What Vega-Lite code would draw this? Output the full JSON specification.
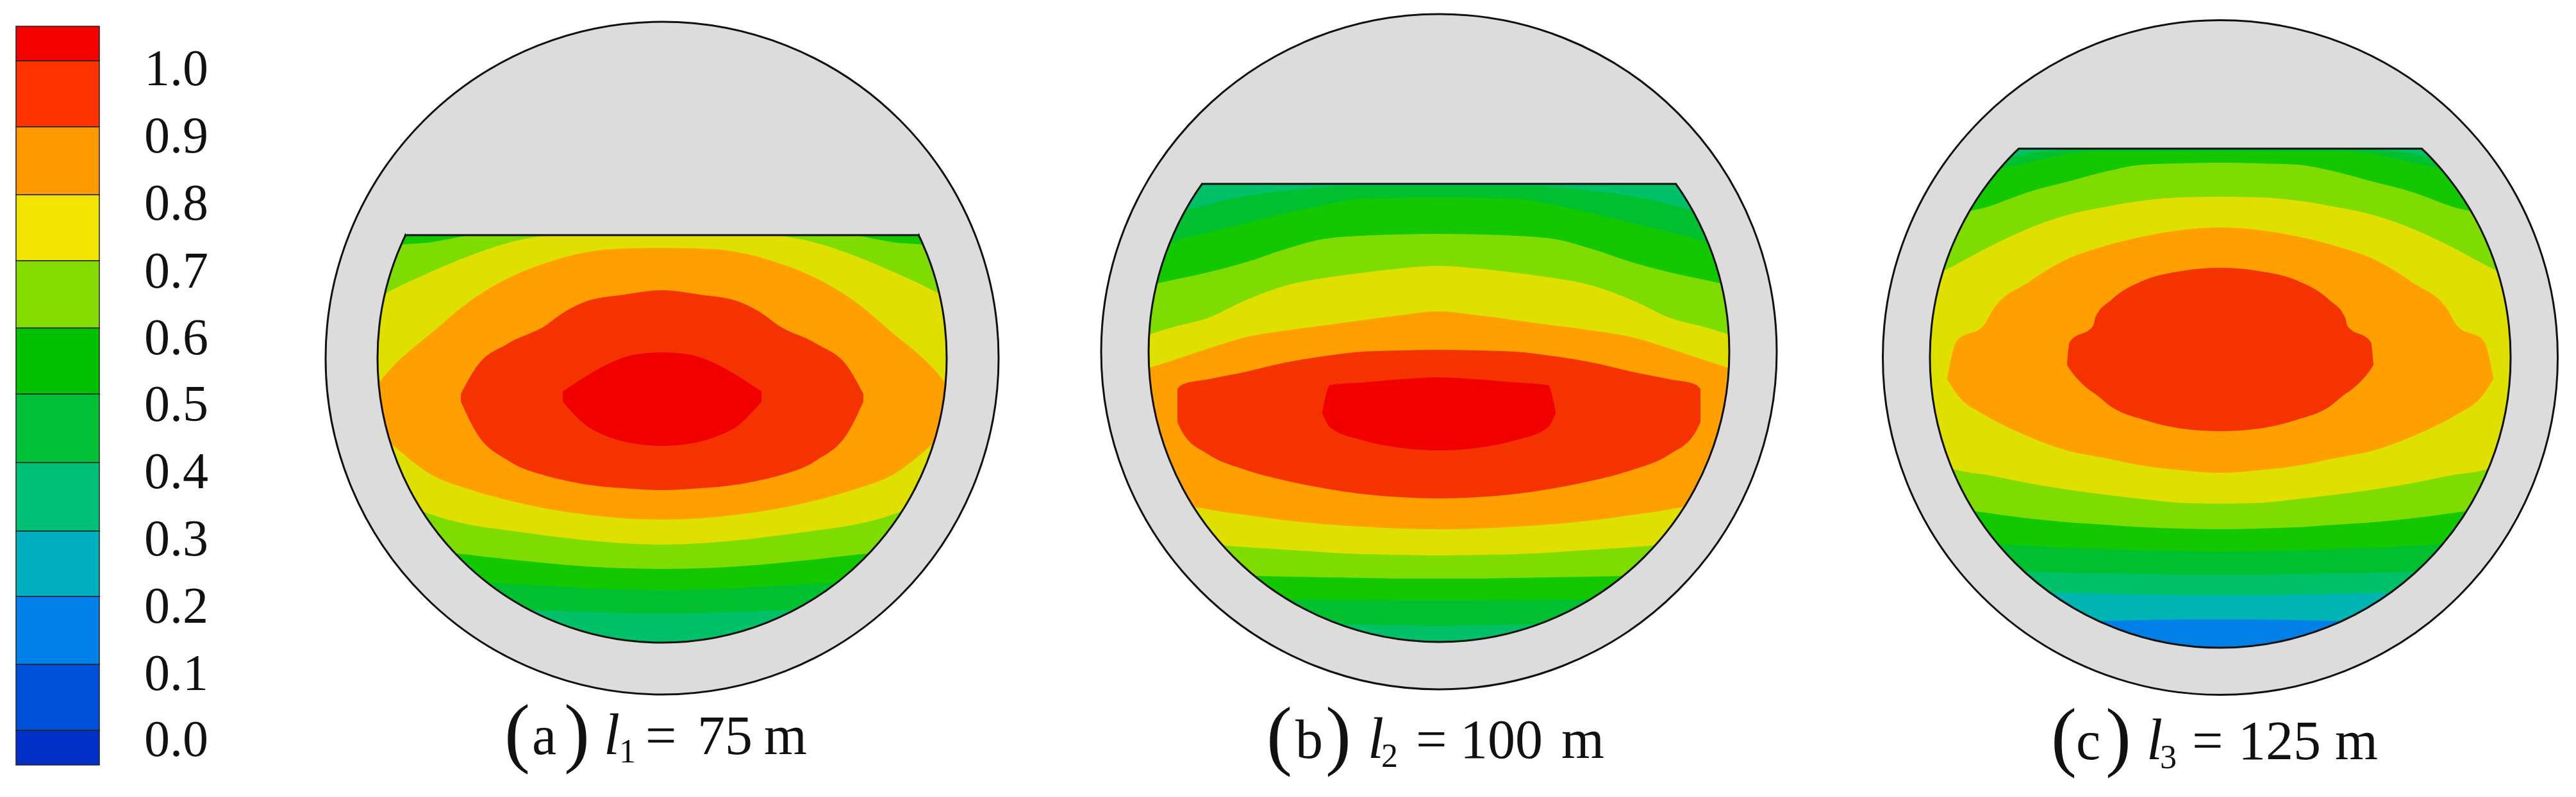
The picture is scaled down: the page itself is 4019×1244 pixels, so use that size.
{"$schema":"https://vega.github.io/schema/vega-lite/v6.json","width":4019,"height":1244,"autosize":{"type":"none"},"padding":0,"background":"white","config":{"view":{"stroke":null}},
"datasets":{
"discs":[{"p":"a","x":1033,"y":559,"outer":1050,"inner":888,"ring":958},{"p":"b","x":2245,"y":549,"outer":1054,"inner":906,"ring":976},{"p":"c","x":3464,"y":558,"outer":1053,"inner":906,"ring":976}],
"chords":[{"p":"a","x":631,"x2":1435,"y":367},{"p":"b","x":1875,"x2":2615,"y":287},{"p":"c","x":3149,"x2":3779,"y":232}],
"caps":[{"p":"a","x":633,"y":324,"y2":367},{"p":"a","x":733,"y":217,"y2":367},{"p":"a","x":833,"y":140,"y2":367},{"p":"a","x":933,"y":106,"y2":367},{"p":"a","x":1033,"y":95,"y2":367},{"p":"a","x":1133,"y":106,"y2":367},{"p":"a","x":1233,"y":140,"y2":367},{"p":"a","x":1333,"y":217,"y2":367},{"p":"a","x":1433,"y":324,"y2":367},
{"p":"b","x":1875,"y":254,"y2":287},{"p":"b","x":1945,"y":183,"y2":287},{"p":"b","x":2045,"y":120,"y2":287},{"p":"b","x":2145,"y":87,"y2":287},{"p":"b","x":2245,"y":76,"y2":287},{"p":"b","x":2345,"y":87,"y2":287},{"p":"b","x":2445,"y":120,"y2":287},{"p":"b","x":2545,"y":183,"y2":287},{"p":"b","x":2615,"y":254,"y2":287},
{"p":"c","x":3149,"y":205,"y2":232},{"p":"c","x":3164,"y":192,"y2":232},{"p":"c","x":3264,"y":129,"y2":232},{"p":"c","x":3364,"y":96,"y2":232},{"p":"c","x":3464,"y":85,"y2":232},{"p":"c","x":3564,"y":96,"y2":232},{"p":"c","x":3664,"y":129,"y2":232},{"p":"c","x":3764,"y":192,"y2":232},{"p":"c","x":3779,"y":205,"y2":232}],
"bar":[{"l":1,"x":25,"x2":155,"y":41,"y2":95},{"l":0.9,"x":25,"x2":155,"y":95,"y2":198},{"l":0.8,"x":25,"x2":155,"y":198,"y2":304},{"l":0.7,"x":25,"x2":155,"y":304,"y2":407},{"l":0.6,"x":25,"x2":155,"y":407,"y2":512},{"l":0.5,"x":25,"x2":155,"y":512,"y2":615},{"l":0.4,"x":25,"x2":155,"y":615,"y2":722},{"l":0.3,"x":25,"x2":155,"y":722,"y2":829},{"l":0.2,"x":25,"x2":155,"y":829,"y2":931},{"l":0.1,"x":25,"x2":155,"y":931,"y2":1037},{"l":0,"x":25,"x2":155,"y":1037,"y2":1140},{"l":-0.1,"x":25,"x2":155,"y":1140,"y2":1194}],
"ticks":[{"t":"1.0","x":275,"y":109},{"t":"0.9","x":275,"y":214},{"t":"0.8","x":275,"y":319},{"t":"0.7","x":275,"y":425},{"t":"0.6","x":275,"y":529},{"t":"0.5","x":275,"y":633},{"t":"0.4","x":275,"y":738},{"t":"0.3","x":275,"y":843},{"t":"0.2","x":275,"y":948},{"t":"0.1","x":275,"y":1053},{"t":"0.0","x":275,"y":1156}],
"parens":[{"t":"(","x":787,"y":1183},{"t":")","x":880,"y":1183},{"t":"(","x":1976,"y":1187},{"t":")","x":2068,"y":1187},{"t":"(","x":3200,"y":1189},{"t":")","x":3285,"y":1189}],
"roman":[{"t":"a","x":830,"y":1177},{"t":"=","x":1007,"y":1177},{"t":"75","x":1088,"y":1177},{"t":"m","x":1192,"y":1177},{"t":"b","x":2021,"y":1183},{"t":"=","x":2209,"y":1183},{"t":"100","x":2278,"y":1183},{"t":"m","x":2436,"y":1183},{"t":"c","x":3239,"y":1185},{"t":"=","x":3420,"y":1185},{"t":"125","x":3492,"y":1185},{"t":"m","x":3643,"y":1185}],
"ital":[{"t":"l","x":942,"y":1177},{"t":"l","x":2134,"y":1183},{"t":"l","x":3349,"y":1185}],
"subs":[{"t":"1","x":966,"y":1190},{"t":"2","x":2155,"y":1197},{"t":"3","x":3370,"y":1199}],
"bands":[
{"p":"a","l":0.3,"x":573,"y":441,"y2":677},{"p":"a","l":0.3,"x":613,"y":362,"y2":781},{"p":"a","l":0.3,"x":673,"y":360,"y2":869},{"p":"a","l":0.3,"x":733,"y":360,"y2":927},{"p":"a","l":0.3,"x":793,"y":360,"y2":969},{"p":"a","l":0.3,"x":853,"y":360,"y2":999},{"p":"a","l":0.3,"x":913,"y":360,"y2":1019},{"p":"a","l":0.3,"x":973,"y":360,"y2":1030},{"p":"a","l":0.3,"x":1033,"y":360,"y2":1034},{"p":"a","l":0.3,"x":1093,"y":360,"y2":1030},{"p":"a","l":0.3,"x":1153,"y":360,"y2":1019},{"p":"a","l":0.3,"x":1213,"y":360,"y2":999},{"p":"a","l":0.3,"x":1273,"y":360,"y2":969},{"p":"a","l":0.3,"x":1333,"y":360,"y2":927},{"p":"a","l":0.3,"x":1393,"y":360,"y2":869},{"p":"a","l":0.3,"x":1453,"y":362,"y2":781},{"p":"a","l":0.3,"x":1493,"y":441,"y2":677},
{"p":"a","l":0.4,"x":573,"y":441,"y2":677},{"p":"a","l":0.4,"x":613,"y":362,"y2":781},{"p":"a","l":0.4,"x":673,"y":360,"y2":869},{"p":"a","l":0.4,"x":733,"y":360,"y2":927},{"p":"a","l":0.4,"x":793,"y":360,"y2":951},{"p":"a","l":0.4,"x":853,"y":360,"y2":953},{"p":"a","l":0.4,"x":913,"y":360,"y2":955},{"p":"a","l":0.4,"x":973,"y":360,"y2":957},{"p":"a","l":0.4,"x":1033,"y":360,"y2":958},{"p":"a","l":0.4,"x":1093,"y":360,"y2":957},{"p":"a","l":0.4,"x":1153,"y":360,"y2":955},{"p":"a","l":0.4,"x":1213,"y":360,"y2":953},{"p":"a","l":0.4,"x":1273,"y":360,"y2":951},{"p":"a","l":0.4,"x":1333,"y":360,"y2":927},{"p":"a","l":0.4,"x":1393,"y":360,"y2":869},{"p":"a","l":0.4,"x":1453,"y":362,"y2":781},{"p":"a","l":0.4,"x":1493,"y":441,"y2":677},
{"p":"a","l":0.5,"x":573,"y":441,"y2":677},{"p":"a","l":0.5,"x":613,"y":362,"y2":781},{"p":"a","l":0.5,"x":673,"y":360,"y2":869},{"p":"a","l":0.5,"x":733,"y":360,"y2":908},{"p":"a","l":0.5,"x":793,"y":360,"y2":911},{"p":"a","l":0.5,"x":853,"y":360,"y2":914},{"p":"a","l":0.5,"x":913,"y":360,"y2":918},{"p":"a","l":0.5,"x":973,"y":360,"y2":920},{"p":"a","l":0.5,"x":1033,"y":360,"y2":921},{"p":"a","l":0.5,"x":1093,"y":360,"y2":920},{"p":"a","l":0.5,"x":1153,"y":360,"y2":918},{"p":"a","l":0.5,"x":1213,"y":360,"y2":914},{"p":"a","l":0.5,"x":1273,"y":360,"y2":911},{"p":"a","l":0.5,"x":1333,"y":360,"y2":908},{"p":"a","l":0.5,"x":1393,"y":360,"y2":869},{"p":"a","l":0.5,"x":1453,"y":362,"y2":781},{"p":"a","l":0.5,"x":1493,"y":441,"y2":677},
{"p":"a","l":0.6,"x":573,"y":441,"y2":677},{"p":"a","l":0.6,"x":613,"y":384,"y2":781},{"p":"a","l":0.6,"x":673,"y":378,"y2":858},{"p":"a","l":0.6,"x":733,"y":367,"y2":866},{"p":"a","l":0.6,"x":793,"y":360,"y2":873},{"p":"a","l":0.6,"x":853,"y":360,"y2":879},{"p":"a","l":0.6,"x":913,"y":360,"y2":884},{"p":"a","l":0.6,"x":973,"y":360,"y2":887},{"p":"a","l":0.6,"x":1033,"y":360,"y2":888},{"p":"a","l":0.6,"x":1093,"y":360,"y2":887},{"p":"a","l":0.6,"x":1153,"y":360,"y2":884},{"p":"a","l":0.6,"x":1213,"y":360,"y2":879},{"p":"a","l":0.6,"x":1273,"y":360,"y2":873},{"p":"a","l":0.6,"x":1333,"y":367,"y2":866},{"p":"a","l":0.6,"x":1393,"y":378,"y2":858},{"p":"a","l":0.6,"x":1453,"y":384,"y2":781},{"p":"a","l":0.6,"x":1493,"y":441,"y2":677},
{"p":"a","l":0.7,"x":573,"y":474,"y2":677},{"p":"a","l":0.7,"x":613,"y":452,"y2":775},{"p":"a","l":0.7,"x":673,"y":424,"y2":803},{"p":"a","l":0.7,"x":733,"y":399,"y2":819},{"p":"a","l":0.7,"x":793,"y":379,"y2":828},{"p":"a","l":0.7,"x":853,"y":368,"y2":836},{"p":"a","l":0.7,"x":913,"y":366,"y2":843},{"p":"a","l":0.7,"x":973,"y":365,"y2":848},{"p":"a","l":0.7,"x":1033,"y":364,"y2":850},{"p":"a","l":0.7,"x":1093,"y":365,"y2":848},{"p":"a","l":0.7,"x":1153,"y":366,"y2":843},{"p":"a","l":0.7,"x":1213,"y":368,"y2":836},{"p":"a","l":0.7,"x":1273,"y":379,"y2":828},{"p":"a","l":0.7,"x":1333,"y":399,"y2":819},{"p":"a","l":0.7,"x":1393,"y":424,"y2":803},{"p":"a","l":0.7,"x":1453,"y":452,"y2":775},{"p":"a","l":0.7,"x":1493,"y":474,"y2":677},
{"p":"a","l":0.8,"x":573,"y":620,"y2":660},{"p":"a","l":0.8,"x":613,"y":572,"y2":695},{"p":"a","l":0.8,"x":673,"y":520,"y2":741},{"p":"a","l":0.8,"x":733,"y":470,"y2":764},{"p":"a","l":0.8,"x":793,"y":434,"y2":781},{"p":"a","l":0.8,"x":853,"y":410,"y2":794},{"p":"a","l":0.8,"x":913,"y":394,"y2":803},{"p":"a","l":0.8,"x":973,"y":388,"y2":809},{"p":"a","l":0.8,"x":1033,"y":387,"y2":811},{"p":"a","l":0.8,"x":1093,"y":388,"y2":809},{"p":"a","l":0.8,"x":1153,"y":394,"y2":803},{"p":"a","l":0.8,"x":1213,"y":410,"y2":794},{"p":"a","l":0.8,"x":1273,"y":434,"y2":781},{"p":"a","l":0.8,"x":1333,"y":470,"y2":764},{"p":"a","l":0.8,"x":1393,"y":520,"y2":741},{"p":"a","l":0.8,"x":1453,"y":572,"y2":695},{"p":"a","l":0.8,"x":1493,"y":620,"y2":660},
{"p":"a","l":0.9,"x":719,"y":615,"y2":627},{"p":"a","l":0.9,"x":743,"y":573,"y2":675},{"p":"a","l":0.9,"x":793,"y":536,"y2":719},{"p":"a","l":0.9,"x":853,"y":507,"y2":743},{"p":"a","l":0.9,"x":873,"y":492,"y2":748},{"p":"a","l":0.9,"x":913,"y":471,"y2":756},{"p":"a","l":0.9,"x":973,"y":460,"y2":762},{"p":"a","l":0.9,"x":1033,"y":453,"y2":765},{"p":"a","l":0.9,"x":1093,"y":460,"y2":762},{"p":"a","l":0.9,"x":1153,"y":471,"y2":756},{"p":"a","l":0.9,"x":1193,"y":492,"y2":748},{"p":"a","l":0.9,"x":1213,"y":507,"y2":743},{"p":"a","l":0.9,"x":1273,"y":536,"y2":719},{"p":"a","l":0.9,"x":1323,"y":573,"y2":675},{"p":"a","l":0.9,"x":1347,"y":615,"y2":627},
{"p":"a","l":1,"x":878,"y":611,"y2":627},{"p":"a","l":1,"x":913,"y":588,"y2":663},{"p":"a","l":1,"x":953,"y":566,"y2":683},{"p":"a","l":1,"x":993,"y":553,"y2":693},{"p":"a","l":1,"x":1033,"y":550,"y2":696},{"p":"a","l":1,"x":1073,"y":553,"y2":693},{"p":"a","l":1,"x":1113,"y":566,"y2":683},{"p":"a","l":1,"x":1153,"y":588,"y2":663},{"p":"a","l":1,"x":1188,"y":611,"y2":627},

{"p":"b","l":0.3,"x":1775,"y":432,"y2":666},{"p":"b","l":0.3,"x":1825,"y":308,"y2":790},{"p":"b","l":0.3,"x":1885,"y":283,"y2":871},{"p":"b","l":0.3,"x":1945,"y":283,"y2":928},{"p":"b","l":0.3,"x":2005,"y":283,"y2":968},{"p":"b","l":0.3,"x":2065,"y":283,"y2":997},{"p":"b","l":0.3,"x":2125,"y":283,"y2":1017},{"p":"b","l":0.3,"x":2185,"y":283,"y2":1028},{"p":"b","l":0.3,"x":2245,"y":283,"y2":1032},{"p":"b","l":0.3,"x":2305,"y":283,"y2":1028},{"p":"b","l":0.3,"x":2365,"y":283,"y2":1017},{"p":"b","l":0.3,"x":2425,"y":283,"y2":997},{"p":"b","l":0.3,"x":2485,"y":283,"y2":968},{"p":"b","l":0.3,"x":2545,"y":283,"y2":928},{"p":"b","l":0.3,"x":2605,"y":283,"y2":871},{"p":"b","l":0.3,"x":2665,"y":308,"y2":790},{"p":"b","l":0.3,"x":2715,"y":432,"y2":666},
{"p":"b","l":0.4,"x":1775,"y":432,"y2":666},{"p":"b","l":0.4,"x":1825,"y":341,"y2":790},{"p":"b","l":0.4,"x":1885,"y":319,"y2":871},{"p":"b","l":0.4,"x":1945,"y":306,"y2":928},{"p":"b","l":0.4,"x":2005,"y":298,"y2":968},{"p":"b","l":0.4,"x":2065,"y":292,"y2":973},{"p":"b","l":0.4,"x":2125,"y":290,"y2":975},{"p":"b","l":0.4,"x":2185,"y":290,"y2":976},{"p":"b","l":0.4,"x":2245,"y":290,"y2":977},{"p":"b","l":0.4,"x":2305,"y":290,"y2":976},{"p":"b","l":0.4,"x":2365,"y":290,"y2":975},{"p":"b","l":0.4,"x":2425,"y":292,"y2":973},{"p":"b","l":0.4,"x":2485,"y":298,"y2":968},{"p":"b","l":0.4,"x":2545,"y":306,"y2":928},{"p":"b","l":0.4,"x":2605,"y":319,"y2":871},{"p":"b","l":0.4,"x":2665,"y":341,"y2":790},{"p":"b","l":0.4,"x":2715,"y":432,"y2":666},
{"p":"b","l":0.5,"x":1775,"y":432,"y2":666},{"p":"b","l":0.5,"x":1825,"y":381,"y2":790},{"p":"b","l":0.5,"x":1885,"y":363,"y2":871},{"p":"b","l":0.5,"x":1945,"y":348,"y2":928},{"p":"b","l":0.5,"x":2005,"y":333,"y2":935},{"p":"b","l":0.5,"x":2065,"y":320,"y2":936},{"p":"b","l":0.5,"x":2125,"y":310,"y2":936},{"p":"b","l":0.5,"x":2185,"y":309,"y2":937},{"p":"b","l":0.5,"x":2245,"y":308,"y2":937},{"p":"b","l":0.5,"x":2305,"y":309,"y2":937},{"p":"b","l":0.5,"x":2365,"y":310,"y2":936},{"p":"b","l":0.5,"x":2425,"y":320,"y2":936},{"p":"b","l":0.5,"x":2485,"y":333,"y2":935},{"p":"b","l":0.5,"x":2545,"y":348,"y2":928},{"p":"b","l":0.5,"x":2605,"y":363,"y2":871},{"p":"b","l":0.5,"x":2665,"y":381,"y2":790},{"p":"b","l":0.5,"x":2715,"y":432,"y2":666},
{"p":"b","l":0.6,"x":1775,"y":449,"y2":666},{"p":"b","l":0.6,"x":1825,"y":438,"y2":790},{"p":"b","l":0.6,"x":1885,"y":425,"y2":871},{"p":"b","l":0.6,"x":1945,"y":409,"y2":898},{"p":"b","l":0.6,"x":2005,"y":389,"y2":900},{"p":"b","l":0.6,"x":2065,"y":373,"y2":901},{"p":"b","l":0.6,"x":2125,"y":368,"y2":902},{"p":"b","l":0.6,"x":2185,"y":366,"y2":903},{"p":"b","l":0.6,"x":2245,"y":365,"y2":903},{"p":"b","l":0.6,"x":2305,"y":366,"y2":903},{"p":"b","l":0.6,"x":2365,"y":368,"y2":902},{"p":"b","l":0.6,"x":2425,"y":373,"y2":901},{"p":"b","l":0.6,"x":2485,"y":389,"y2":900},{"p":"b","l":0.6,"x":2545,"y":409,"y2":898},{"p":"b","l":0.6,"x":2605,"y":425,"y2":871},{"p":"b","l":0.6,"x":2665,"y":438,"y2":790},{"p":"b","l":0.6,"x":2715,"y":449,"y2":666},
{"p":"b","l":0.7,"x":1775,"y":528,"y2":666},{"p":"b","l":0.7,"x":1825,"y":512,"y2":790},{"p":"b","l":0.7,"x":1885,"y":496,"y2":848},{"p":"b","l":0.7,"x":1945,"y":468,"y2":854},{"p":"b","l":0.7,"x":2005,"y":446,"y2":858},{"p":"b","l":0.7,"x":2065,"y":434,"y2":862},{"p":"b","l":0.7,"x":2125,"y":426,"y2":865},{"p":"b","l":0.7,"x":2185,"y":419,"y2":866},{"p":"b","l":0.7,"x":2245,"y":415,"y2":867},{"p":"b","l":0.7,"x":2305,"y":419,"y2":866},{"p":"b","l":0.7,"x":2365,"y":426,"y2":865},{"p":"b","l":0.7,"x":2425,"y":434,"y2":862},{"p":"b","l":0.7,"x":2485,"y":446,"y2":858},{"p":"b","l":0.7,"x":2545,"y":468,"y2":854},{"p":"b","l":0.7,"x":2605,"y":496,"y2":848},{"p":"b","l":0.7,"x":2665,"y":512,"y2":790},{"p":"b","l":0.7,"x":2715,"y":528,"y2":666},
{"p":"b","l":0.8,"x":1775,"y":580,"y2":666},{"p":"b","l":0.8,"x":1825,"y":564,"y2":780},{"p":"b","l":0.8,"x":1885,"y":544,"y2":795},{"p":"b","l":0.8,"x":1945,"y":526,"y2":804},{"p":"b","l":0.8,"x":2005,"y":516,"y2":812},{"p":"b","l":0.8,"x":2065,"y":508,"y2":818},{"p":"b","l":0.8,"x":2125,"y":500,"y2":822},{"p":"b","l":0.8,"x":2185,"y":492,"y2":825},{"p":"b","l":0.8,"x":2245,"y":486,"y2":826},{"p":"b","l":0.8,"x":2305,"y":492,"y2":825},{"p":"b","l":0.8,"x":2365,"y":500,"y2":822},{"p":"b","l":0.8,"x":2425,"y":508,"y2":818},{"p":"b","l":0.8,"x":2485,"y":516,"y2":812},{"p":"b","l":0.8,"x":2545,"y":526,"y2":804},{"p":"b","l":0.8,"x":2605,"y":544,"y2":795},{"p":"b","l":0.8,"x":2665,"y":564,"y2":780},{"p":"b","l":0.8,"x":2715,"y":580,"y2":666},
{"p":"b","l":0.9,"x":1837,"y":607,"y2":659},{"p":"b","l":0.9,"x":1845,"y":600,"y2":675},{"p":"b","l":0.9,"x":1885,"y":592,"y2":709},{"p":"b","l":0.9,"x":1945,"y":580,"y2":734},{"p":"b","l":0.9,"x":2005,"y":566,"y2":750},{"p":"b","l":0.9,"x":2065,"y":556,"y2":762},{"p":"b","l":0.9,"x":2125,"y":549,"y2":771},{"p":"b","l":0.9,"x":2185,"y":547,"y2":776},{"p":"b","l":0.9,"x":2245,"y":546,"y2":778},{"p":"b","l":0.9,"x":2305,"y":547,"y2":776},{"p":"b","l":0.9,"x":2365,"y":549,"y2":771},{"p":"b","l":0.9,"x":2425,"y":556,"y2":762},{"p":"b","l":0.9,"x":2485,"y":566,"y2":750},{"p":"b","l":0.9,"x":2545,"y":580,"y2":734},{"p":"b","l":0.9,"x":2605,"y":592,"y2":709},{"p":"b","l":0.9,"x":2645,"y":600,"y2":675},{"p":"b","l":0.9,"x":2653,"y":607,"y2":659},
{"p":"b","l":1,"x":2063,"y":643,"y2":645},{"p":"b","l":1,"x":2075,"y":601,"y2":667},{"p":"b","l":1,"x":2125,"y":597,"y2":687},{"p":"b","l":1,"x":2185,"y":592,"y2":699},{"p":"b","l":1,"x":2245,"y":589,"y2":703},{"p":"b","l":1,"x":2305,"y":592,"y2":699},{"p":"b","l":1,"x":2365,"y":597,"y2":687},{"p":"b","l":1,"x":2415,"y":601,"y2":667},{"p":"b","l":1,"x":2427,"y":643,"y2":645},

{"p":"c","l":0.1,"x":2994,"y":441,"y2":675},{"p":"c","l":0.1,"x":3044,"y":317,"y2":799},{"p":"c","l":0.1,"x":3104,"y":240,"y2":880},{"p":"c","l":0.1,"x":3164,"y":228,"y2":937},{"p":"c","l":0.1,"x":3224,"y":228,"y2":977},{"p":"c","l":0.1,"x":3284,"y":228,"y2":1006},{"p":"c","l":0.1,"x":3344,"y":228,"y2":1026},{"p":"c","l":0.1,"x":3404,"y":228,"y2":1037},{"p":"c","l":0.1,"x":3464,"y":228,"y2":1041},{"p":"c","l":0.1,"x":3524,"y":228,"y2":1037},{"p":"c","l":0.1,"x":3584,"y":228,"y2":1026},{"p":"c","l":0.1,"x":3644,"y":228,"y2":1006},{"p":"c","l":0.1,"x":3704,"y":228,"y2":977},{"p":"c","l":0.1,"x":3764,"y":228,"y2":937},{"p":"c","l":0.1,"x":3824,"y":240,"y2":880},{"p":"c","l":0.1,"x":3884,"y":317,"y2":799},{"p":"c","l":0.1,"x":3934,"y":441,"y2":675},
{"p":"c","l":0.2,"x":2994,"y":441,"y2":675},{"p":"c","l":0.2,"x":3044,"y":317,"y2":799},{"p":"c","l":0.2,"x":3104,"y":240,"y2":880},{"p":"c","l":0.2,"x":3164,"y":228,"y2":937},{"p":"c","l":0.2,"x":3224,"y":228,"y2":970},{"p":"c","l":0.2,"x":3284,"y":228,"y2":969},{"p":"c","l":0.2,"x":3344,"y":228,"y2":968},{"p":"c","l":0.2,"x":3404,"y":228,"y2":967},{"p":"c","l":0.2,"x":3464,"y":228,"y2":967},{"p":"c","l":0.2,"x":3524,"y":228,"y2":967},{"p":"c","l":0.2,"x":3584,"y":228,"y2":968},{"p":"c","l":0.2,"x":3644,"y":228,"y2":969},{"p":"c","l":0.2,"x":3704,"y":228,"y2":970},{"p":"c","l":0.2,"x":3764,"y":228,"y2":937},{"p":"c","l":0.2,"x":3824,"y":240,"y2":880},{"p":"c","l":0.2,"x":3884,"y":317,"y2":799},{"p":"c","l":0.2,"x":3934,"y":441,"y2":675},
{"p":"c","l":0.3,"x":2994,"y":441,"y2":675},{"p":"c","l":0.3,"x":3044,"y":317,"y2":799},{"p":"c","l":0.3,"x":3104,"y":240,"y2":880},{"p":"c","l":0.3,"x":3164,"y":228,"y2":924},{"p":"c","l":0.3,"x":3224,"y":228,"y2":926},{"p":"c","l":0.3,"x":3284,"y":228,"y2":927},{"p":"c","l":0.3,"x":3344,"y":228,"y2":928},{"p":"c","l":0.3,"x":3404,"y":228,"y2":929},{"p":"c","l":0.3,"x":3464,"y":228,"y2":929},{"p":"c","l":0.3,"x":3524,"y":228,"y2":929},{"p":"c","l":0.3,"x":3584,"y":228,"y2":928},{"p":"c","l":0.3,"x":3644,"y":228,"y2":927},{"p":"c","l":0.3,"x":3704,"y":228,"y2":926},{"p":"c","l":0.3,"x":3764,"y":228,"y2":924},{"p":"c","l":0.3,"x":3824,"y":240,"y2":880},{"p":"c","l":0.3,"x":3884,"y":317,"y2":799},{"p":"c","l":0.3,"x":3934,"y":441,"y2":675},
{"p":"c","l":0.4,"x":2994,"y":441,"y2":675},{"p":"c","l":0.4,"x":3044,"y":317,"y2":799},{"p":"c","l":0.4,"x":3104,"y":262,"y2":880},{"p":"c","l":0.4,"x":3164,"y":240,"y2":892},{"p":"c","l":0.4,"x":3224,"y":233,"y2":894},{"p":"c","l":0.4,"x":3284,"y":230,"y2":895},{"p":"c","l":0.4,"x":3344,"y":230,"y2":896},{"p":"c","l":0.4,"x":3404,"y":230,"y2":897},{"p":"c","l":0.4,"x":3464,"y":230,"y2":897},{"p":"c","l":0.4,"x":3524,"y":230,"y2":897},{"p":"c","l":0.4,"x":3584,"y":230,"y2":896},{"p":"c","l":0.4,"x":3644,"y":230,"y2":895},{"p":"c","l":0.4,"x":3704,"y":233,"y2":894},{"p":"c","l":0.4,"x":3764,"y":240,"y2":892},{"p":"c","l":0.4,"x":3824,"y":262,"y2":880},{"p":"c","l":0.4,"x":3884,"y":317,"y2":799},{"p":"c","l":0.4,"x":3934,"y":441,"y2":675},
{"p":"c","l":0.5,"x":2994,"y":441,"y2":675},{"p":"c","l":0.5,"x":3044,"y":317,"y2":799},{"p":"c","l":0.5,"x":3104,"y":270,"y2":847},{"p":"c","l":0.5,"x":3164,"y":254,"y2":852},{"p":"c","l":0.5,"x":3224,"y":241,"y2":855},{"p":"c","l":0.5,"x":3284,"y":236,"y2":857},{"p":"c","l":0.5,"x":3344,"y":236,"y2":859},{"p":"c","l":0.5,"x":3404,"y":236,"y2":860},{"p":"c","l":0.5,"x":3464,"y":236,"y2":861},{"p":"c","l":0.5,"x":3524,"y":236,"y2":860},{"p":"c","l":0.5,"x":3584,"y":236,"y2":859},{"p":"c","l":0.5,"x":3644,"y":236,"y2":857},{"p":"c","l":0.5,"x":3704,"y":241,"y2":855},{"p":"c","l":0.5,"x":3764,"y":254,"y2":852},{"p":"c","l":0.5,"x":3824,"y":270,"y2":847},{"p":"c","l":0.5,"x":3884,"y":317,"y2":799},{"p":"c","l":0.5,"x":3934,"y":441,"y2":675},
{"p":"c","l":0.6,"x":2994,"y":441,"y2":675},{"p":"c","l":0.6,"x":3044,"y":341,"y2":790},{"p":"c","l":0.6,"x":3104,"y":322,"y2":801},{"p":"c","l":0.6,"x":3164,"y":300,"y2":809},{"p":"c","l":0.6,"x":3224,"y":284,"y2":815},{"p":"c","l":0.6,"x":3284,"y":268,"y2":819},{"p":"c","l":0.6,"x":3344,"y":257,"y2":823},{"p":"c","l":0.6,"x":3404,"y":255,"y2":825},{"p":"c","l":0.6,"x":3464,"y":254,"y2":826},{"p":"c","l":0.6,"x":3524,"y":255,"y2":825},{"p":"c","l":0.6,"x":3584,"y":257,"y2":823},{"p":"c","l":0.6,"x":3644,"y":268,"y2":819},{"p":"c","l":0.6,"x":3704,"y":284,"y2":815},{"p":"c","l":0.6,"x":3764,"y":300,"y2":809},{"p":"c","l":0.6,"x":3824,"y":322,"y2":801},{"p":"c","l":0.6,"x":3884,"y":341,"y2":790},{"p":"c","l":0.6,"x":3934,"y":441,"y2":675},
{"p":"c","l":0.7,"x":2994,"y":441,"y2":675},{"p":"c","l":0.7,"x":3044,"y":417,"y2":731},{"p":"c","l":0.7,"x":3104,"y":385,"y2":742},{"p":"c","l":0.7,"x":3164,"y":357,"y2":754},{"p":"c","l":0.7,"x":3224,"y":336,"y2":764},{"p":"c","l":0.7,"x":3284,"y":323,"y2":772},{"p":"c","l":0.7,"x":3344,"y":313,"y2":779},{"p":"c","l":0.7,"x":3404,"y":308,"y2":785},{"p":"c","l":0.7,"x":3464,"y":307,"y2":786},{"p":"c","l":0.7,"x":3524,"y":308,"y2":785},{"p":"c","l":0.7,"x":3584,"y":313,"y2":779},{"p":"c","l":0.7,"x":3644,"y":323,"y2":772},{"p":"c","l":0.7,"x":3704,"y":336,"y2":764},{"p":"c","l":0.7,"x":3764,"y":357,"y2":754},{"p":"c","l":0.7,"x":3824,"y":385,"y2":742},{"p":"c","l":0.7,"x":3884,"y":417,"y2":731},{"p":"c","l":0.7,"x":3934,"y":441,"y2":675},
{"p":"c","l":0.8,"x":3038,"y":590,"y2":592},{"p":"c","l":0.8,"x":3053,"y":532,"y2":615},{"p":"c","l":0.8,"x":3095,"y":508,"y2":647},{"p":"c","l":0.8,"x":3109,"y":484,"y2":655},{"p":"c","l":0.8,"x":3164,"y":441,"y2":681},{"p":"c","l":0.8,"x":3224,"y":405,"y2":703},{"p":"c","l":0.8,"x":3284,"y":384,"y2":715},{"p":"c","l":0.8,"x":3344,"y":369,"y2":727},{"p":"c","l":0.8,"x":3404,"y":359,"y2":734},{"p":"c","l":0.8,"x":3464,"y":355,"y2":738},{"p":"c","l":0.8,"x":3524,"y":359,"y2":734},{"p":"c","l":0.8,"x":3584,"y":369,"y2":727},{"p":"c","l":0.8,"x":3644,"y":384,"y2":715},{"p":"c","l":0.8,"x":3704,"y":405,"y2":703},{"p":"c","l":0.8,"x":3764,"y":441,"y2":681},{"p":"c","l":0.8,"x":3819,"y":484,"y2":655},{"p":"c","l":0.8,"x":3833,"y":508,"y2":647},{"p":"c","l":0.8,"x":3875,"y":532,"y2":615},{"p":"c","l":0.8,"x":3890,"y":590,"y2":592},
{"p":"c","l":0.9,"x":3225,"y":568,"y2":570},{"p":"c","l":0.9,"x":3229,"y":534,"y2":576},{"p":"c","l":0.9,"x":3266,"y":508,"y2":613},{"p":"c","l":0.9,"x":3269,"y":496,"y2":615},{"p":"c","l":0.9,"x":3294,"y":468,"y2":635},{"p":"c","l":0.9,"x":3344,"y":438,"y2":655},{"p":"c","l":0.9,"x":3404,"y":423,"y2":669},{"p":"c","l":0.9,"x":3464,"y":418,"y2":673},{"p":"c","l":0.9,"x":3524,"y":423,"y2":669},{"p":"c","l":0.9,"x":3584,"y":438,"y2":655},{"p":"c","l":0.9,"x":3634,"y":468,"y2":635},{"p":"c","l":0.9,"x":3659,"y":496,"y2":615},{"p":"c","l":0.9,"x":3662,"y":508,"y2":613},{"p":"c","l":0.9,"x":3699,"y":534,"y2":576},{"p":"c","l":0.9,"x":3703,"y":568,"y2":570}
]},
"resolve":{"scale":{"color":"independent"}},
"encoding":{"x":{"field":"x","type":"quantitative","scale":{"domain":[0,4019],"nice":false,"zero":false},"axis":null},"y":{"field":"y","type":"quantitative","scale":{"domain":[1244,0],"nice":false,"zero":false},"axis":null}},
"layer":[
{"data":{"name":"discs"},"mark":{"type":"point","shape":"circle","fill":"#DCDCDC","stroke":"#111111","strokeWidth":3,"opacity":1},"encoding":{"size":{"field":"outer","type":"quantitative","scale":{"type":"pow","exponent":2,"domain":[0,1200],"range":[0,1440000]},"legend":null}}},
{"data":{"name":"bands"},"mark":{"type":"area","interpolate":"monotone"},"encoding":{"y":{"field":"y","type":"quantitative","stack":null},"y2":{"field":"y2"},"detail":{"field":"p"},"color":{"field":"l","type":"ordinal","legend":null,"sort":null,"scale":{"domain":[1,0.9,0.8,0.7,0.6,0.5,0.4,0.3,0.2,0.1],"range":["#F20000","#F53300","#FFA000","#E0E000","#7FDC00","#14C800","#00C030","#00C068","#00B4B4","#0080E6"]}}}},
{"data":{"name":"discs"},"mark":{"type":"point","shape":"circle","filled":false,"stroke":"#DCDCDC","strokeWidth":70,"opacity":1},"encoding":{"size":{"field":"ring","type":"quantitative","legend":null}}},
{"data":{"name":"discs"},"mark":{"type":"point","shape":"circle","filled":false,"stroke":"#111111","strokeWidth":3,"opacity":1},"encoding":{"size":{"field":"inner","type":"quantitative","legend":null}}},
{"data":{"name":"caps"},"mark":{"type":"area","fill":"#DCDCDC"},"encoding":{"y":{"field":"y","type":"quantitative","stack":null},"y2":{"field":"y2"},"detail":{"field":"p"}}},
{"data":{"name":"chords"},"mark":{"type":"rule","stroke":"#111111","strokeWidth":3},"encoding":{"x2":{"field":"x2"}}},
{"data":{"name":"bar"},"mark":{"type":"rect","stroke":"#222222","strokeWidth":1.5},"encoding":{"x2":{"field":"x2"},"y2":{"field":"y2"},"color":{"field":"l","type":"ordinal","legend":null,"sort":null,"scale":{"domain":[1,0.9,0.8,0.7,0.6,0.5,0.4,0.3,0.2,0.1,0,-0.1],"range":["#F40000","#FF3300","#FF9900","#F0E400","#84DC00","#00C000","#00C038","#00C078","#00B0C0","#0080E8","#0050D8","#0030C8"]}}}},
{"data":{"name":"ticks"},"mark":{"type":"text","font":"Liberation Serif","fontSize":80,"align":"center","baseline":"middle","fill":"#111111"},"encoding":{"text":{"field":"t"}}},
{"data":{"name":"parens"},"mark":{"type":"text","font":"Liberation Serif","fontSize":120,"align":"left","baseline":"alphabetic","fill":"#111111"},"encoding":{"text":{"field":"t"}}},
{"data":{"name":"roman"},"mark":{"type":"text","font":"Liberation Serif","fontSize":86,"align":"left","baseline":"alphabetic","fill":"#111111"},"encoding":{"text":{"field":"t"}}},
{"data":{"name":"ital"},"mark":{"type":"text","font":"Liberation Serif","fontStyle":"italic","fontSize":90,"align":"left","baseline":"alphabetic","fill":"#111111"},"encoding":{"text":{"field":"t"}}},
{"data":{"name":"subs"},"mark":{"type":"text","font":"Liberation Serif","fontSize":52,"align":"left","baseline":"alphabetic","fill":"#111111"},"encoding":{"text":{"field":"t"}}}
]}
